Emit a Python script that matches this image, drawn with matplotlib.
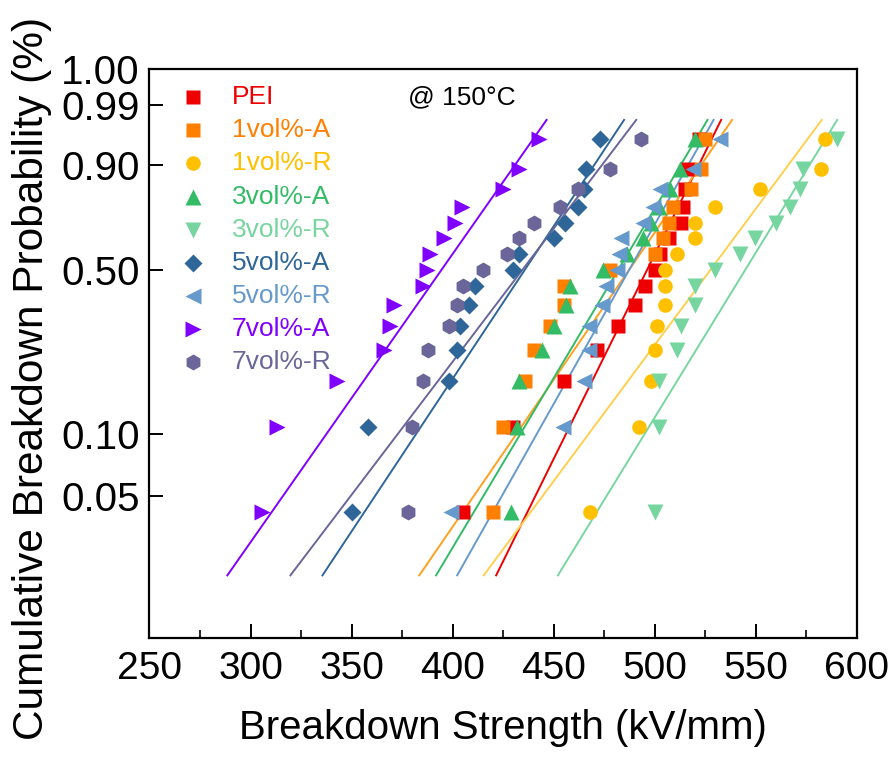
import numpy as np
import matplotlib
matplotlib.use("Agg")
import matplotlib.pyplot as plt
from matplotlib.ticker import FixedLocator, FixedFormatter, MultipleLocator, NullLocator

plt.rcParams['font.family'] = ['Liberation Sans', 'DejaVu Sans']

# cumulative probability levels of the ranked points
prob = [0.042, 0.107, 0.175, 0.240, 0.305, 0.370, 0.435, 0.500,
        0.565, 0.630, 0.695, 0.760, 0.825, 0.890, 0.955]

labels = ['PEI', '1vol%-A', '1vol%-R', '3vol%-A', '3vol%-R',
          '5vol%-A', '5vol%-R', '7vol%-A', '7vol%-R']

pei      = [405, 430, 455, 471.5, 482, 490, 495, 500, 502.5, 507, 513, 514, 515, 516.5, 522]
v1_A     = [420, 425, 436, 440, 448, 455, 455, 478, 500, 504, 507, 509, 518, 523, 525]
v1_R     = [468, 492, 498, 500, 501, 505, 505, 505, 511, 520, 520, 530, 552, 582, 584]
v3_A     = [429, 432, 433, 444, 450, 456, 458, 474.5, 486, 494, 498, 502, 507.5, 512.5, 520]
v3_R     = [500, 502, 502, 511, 513, 520, 520, 530, 542, 549.5, 560, 567, 572, 573.5, 590]
v5_A     = [350, 358, 398, 402, 403.5, 408, 411, 430, 433, 450, 455.5, 462, 465, 466, 473]
v5_R     = [399, 454.5, 465, 467.5, 467.5, 474, 476, 481.5, 482.5, 483.5, 494, 499, 502.5, 519, 532]
v7_A     = [305.5, 313, 343, 366, 369, 371, 385.5, 387.5, 389, 395.5, 401, 404.5, 425, 433, 442.5]
v7_R     = [378, 380, 385.5, 388, 398, 402, 405, 415, 427, 433, 440, 453, 462, 478, 493]

series = [pei, v1_A, v1_R, v3_A, v3_R, v5_A, v5_R, v7_A, v7_R]

colors = ['#EE0000', '#FF7F00', '#FFC000', '#33BB66', '#77D6A0',
          '#2F6699', '#6699CC', '#8000FF', '#6A6699']
line_colors = ['#EE0000', '#FFA020', '#FFD050', '#33BB66', '#77D6A0',
               '#2F6699', '#6699CC', '#8000FF', '#6A6699']
markers = ['s', 's', 'o', '^', 'v', 'D', '<', '>', 'h']
msizes = [10, 10, 10.5, 11, 11, 9.5, 11, 11, 11.5]

fit_range = (0.0205, 0.979)


def fwd(F):
    F = np.clip(np.asarray(F, dtype=float), 1e-12, 1 - 1e-12)
    return np.log(-np.log(1.0 - F))


def inv(y):
    y = np.asarray(y, dtype=float)
    return 1.0 - np.exp(-np.exp(y))


def weibull_mle(x):
    """Maximum-likelihood shape (beta) and scale (alpha) of a 2-parameter Weibull."""
    x = np.asarray(x, dtype=float)
    s = x.max()
    lx = np.log(x / s)

    def h(b):
        w = np.exp(b * lx)
        return np.sum(w * lx) / np.sum(w) - 1.0 / b - lx.mean()

    lo, hi = 0.1, 500.0
    for _ in range(200):
        mid = 0.5 * (lo + hi)
        if h(mid) > 0:
            hi = mid
        else:
            lo = mid
    b = 0.5 * (lo + hi)
    a = s * np.mean(np.exp(b * lx)) ** (1.0 / b)
    return b, a


fig = plt.figure(figsize=(8.95, 7.59), dpi=100)
ax = fig.add_axes([0.167, 0.159, 0.7905, 0.7497])
ax.set_yscale('function', functions=(fwd, inv))

for vals, c, lc, m, ms in zip(series, colors, line_colors, markers, msizes):
    E = np.asarray(vals, dtype=float)
    beta, alpha = weibull_mle(E)
    gl = fwd(np.array(fit_range))
    El = alpha * np.exp(gl / beta)
    ax.plot(El, fit_range, color=lc, lw=1.4, zorder=2)
    ax.plot(E, prob, linestyle='none', marker=m, ms=ms, color=c, mec='none', zorder=3)

ax.set_xlim(250, 600)
ax.set_ylim(0.01, 0.999)
ax.xaxis.set_major_locator(MultipleLocator(50))
ax.xaxis.set_minor_locator(MultipleLocator(25))
ax.yaxis.set_major_locator(FixedLocator([0.05, 0.10, 0.50, 0.90, 0.99, 0.999]))
ax.yaxis.set_major_formatter(FixedFormatter(['0.05', '0.10', '0.50', '0.90', '0.99', '1.00']))
ax.yaxis.set_minor_locator(NullLocator())

ax.tick_params(axis='both', which='major', direction='in', length=10, width=1.4,
               top=False, right=False)
ax.tick_params(axis='x', which='minor', direction='in', length=6, width=1.2, top=False)
ax.tick_params(axis='x', labelsize=28, pad=9)
ax.tick_params(axis='y', labelsize=29, pad=7)
for sp in ax.spines.values():
    sp.set_linewidth(1.6)

ax.set_xlabel('Breakdown Strength (kV/mm)', fontsize=29, labelpad=16)
ax.set_ylabel('Cumulative Breakdown Probability (%)', fontsize=30.5)
ax.yaxis.set_label_coords(-0.138, 0.456)

# legend (manual, in axes fraction)
x_m, x_t = 0.0615, 0.116
y0, dy = 0.951, 0.0582
for k, (lab, c, m, ms) in enumerate(zip(labels, colors, markers, msizes)):
    yy = y0 - k * dy
    ax.plot([x_m], [yy], transform=ax.transAxes, marker=m, ms=ms, color=c,
            mec='none', linestyle='none', clip_on=False)
    ax.text(x_t, yy, lab, transform=ax.transAxes, color=c, fontsize=19,
            va='center', ha='left')

ax.text(0.365, 0.951, '@ 150°C', transform=ax.transAxes, fontsize=19,
        va='center', ha='left', color='black')

fig.savefig('out.png', dpi=100)
